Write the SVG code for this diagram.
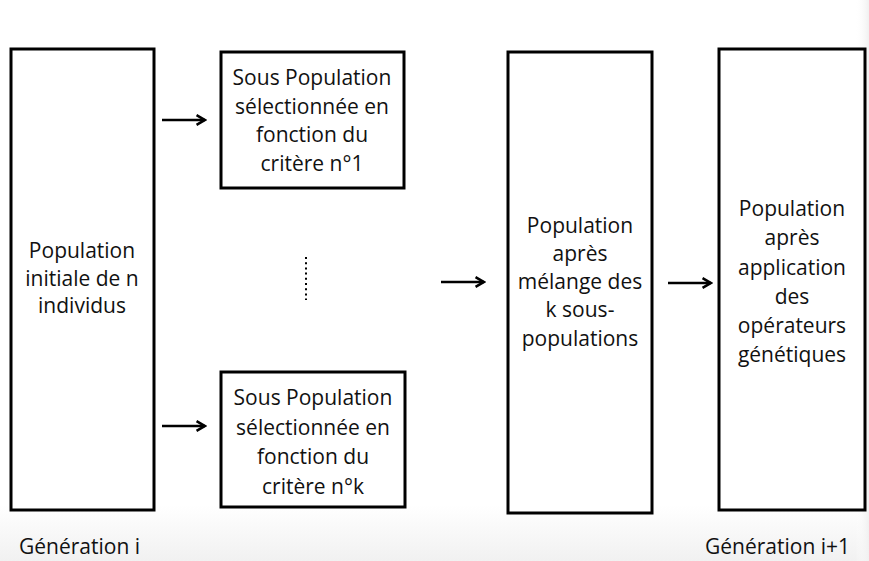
<svg xmlns="http://www.w3.org/2000/svg" width="869" height="561" viewBox="0 0 869 561">
<style>
.box{fill:#fff;stroke:#000;stroke-width:3}
.t{font-family:"Open Sans","Liberation Sans",sans-serif;font-size:21px;fill:#111;text-anchor:middle}
.l{font-family:"Open Sans","Liberation Sans",sans-serif;font-size:21px;fill:#111}
.c{stroke:#000;stroke-width:2.6;fill:none}
</style>
<defs>
<marker id="ah" viewBox="0 0 10 10" refX="8.5" refY="5" markerWidth="5" markerHeight="5" orient="auto" markerUnits="strokeWidth">
<path d="M2,1.3 L8.5,5 L2,8.7" fill="none" stroke="#000" stroke-width="2" stroke-linejoin="miter"/>
</marker>
<linearGradient id="bg" x1="0" y1="0" x2="0" y2="1">
<stop offset="0" stop-color="#fff"/>
<stop offset="1" stop-color="#f1f1f1"/>
</linearGradient>
<linearGradient id="rg" x1="0" y1="0" x2="1" y2="0">
<stop offset="0" stop-color="#fff" stop-opacity="0"/>
<stop offset="1" stop-color="#f0f0f0"/>
</linearGradient>
</defs>
<rect width="869" height="561" fill="#fff"/>
<rect y="505" width="869" height="56" fill="url(#bg)"/>
<rect x="855" width="14" height="561" fill="url(#rg)"/>
<g id="n1">
<rect class="box" x="11" y="49" width="143" height="461"/>
<text class="t" x="82" y="258">Population</text>
<text class="t" x="82" y="286">initiale de n</text>
<text class="t" x="82" y="313">individus</text>
</g>
<g id="n2">
<rect class="box" x="221" y="52" width="183" height="136"/>
<text class="t" x="312" y="85">Sous Population</text>
<text class="t" x="312" y="114">sélectionnée en</text>
<text class="t" x="312" y="142">fonction du</text>
<text class="t" x="312" y="171">critère n°1</text>
</g>
<g id="n3">
<rect class="box" x="221" y="372" width="184" height="135"/>
<text class="t" x="313" y="405">Sous Population</text>
<text class="t" x="313" y="435">sélectionnée en</text>
<text class="t" x="313" y="464">fonction du</text>
<text class="t" x="313" y="494">critère n°k</text>
</g>
<g id="n4">
<rect class="box" x="508" y="52" width="144" height="461"/>
<text class="t" x="580" y="233">Population</text>
<text class="t" x="580" y="261">après</text>
<text class="t" x="580" y="289">mélange des</text>
<text class="t" x="580" y="317">k sous-</text>
<text class="t" x="580" y="346">populations</text>
</g>
<g id="n5">
<rect class="box" x="719" y="49" width="146" height="461"/>
<text class="t" x="792" y="216">Population</text>
<text class="t" x="792" y="245">après</text>
<text class="t" x="792" y="275">application</text>
<text class="t" x="792" y="304">des</text>
<text class="t" x="792" y="333">opérateurs</text>
<text class="t" x="792" y="362">génétiques</text>
</g>
<g id="connectors">
<line class="c" x1="162" y1="120" x2="205" y2="120" marker-end="url(#ah)"/>
<line class="c" x1="162" y1="426" x2="205" y2="426" marker-end="url(#ah)"/>
<line class="c" x1="441" y1="282" x2="484" y2="282" marker-end="url(#ah)"/>
<line class="c" x1="668" y1="283" x2="711" y2="283" marker-end="url(#ah)"/>
<line x1="306" y1="257" x2="306" y2="300" stroke="#000" stroke-width="2" stroke-dasharray="2,3.2"/>
</g>
<text class="l" x="19" y="554">Génération i</text>
<text class="l" x="705" y="554">Génération i+1</text>
</svg>
